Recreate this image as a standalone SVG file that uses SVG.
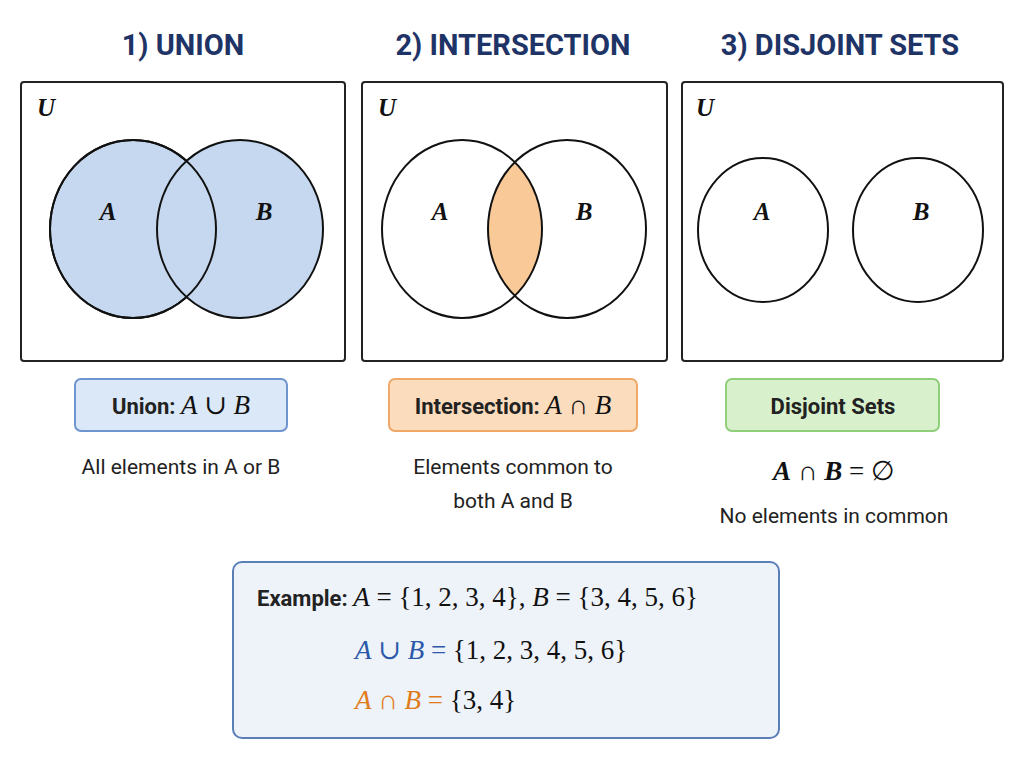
<svg xmlns="http://www.w3.org/2000/svg" width="1024" height="768" viewBox="0 0 1024 768">
<style>
.t{font-family:Roboto,"Liberation Sans",sans-serif;font-weight:bold;font-size:29px;fill:#1f3466;text-anchor:middle}
.p{fill:#fff;stroke:#222;stroke-width:2}
.c{stroke:#111;stroke-width:2}
.m{font-family:"Liberation Serif","DejaVu Serif",serif;font-style:italic;font-weight:bold;font-size:25px;fill:#111;text-anchor:middle}
.s{font-family:Roboto,"Liberation Sans",sans-serif;font-size:21px;fill:#222;text-anchor:middle}
.b{font-family:Roboto,"Liberation Sans",sans-serif;font-weight:bold;font-size:22px;fill:#222}
.x{font-family:"Liberation Serif","DejaVu Serif",serif;font-size:27px;fill:#111}
</style>
<rect width="1024" height="768" fill="#fff"/>
<g id="union">
<text class="t" x="183" y="55">1) UNION</text>
<rect class="p" x="21" y="82" width="324" height="279" rx="3"/>
<text class="m" x="46" y="116">U</text>
<ellipse cx="133" cy="229" rx="83" ry="89" fill="#c5d8ef" class="c"/>
<ellipse cx="240" cy="229" rx="83" ry="89" fill="#c5d8ef" class="c"/>
<ellipse cx="133" cy="229" rx="83" ry="89" fill="none" class="c"/>
<text class="m" x="108" y="220">A</text><text class="m" x="264" y="220">B</text>
<rect x="75" y="379" width="212" height="52" rx="6" fill="#dbe8f7" stroke="#6e95cf" stroke-width="2"/>
<text x="181" y="414" text-anchor="middle"><tspan class="b">Union: </tspan><tspan class="x" font-style="italic">A</tspan><tspan class="x"> ∪ </tspan><tspan class="x" font-style="italic">B</tspan></text>
<text class="s" x="181" y="474">All elements in A or B</text>
</g>
<g id="intersection">
<text class="t" x="513" y="55">2) INTERSECTION</text>
<rect class="p" x="362" y="82" width="305" height="279" rx="3"/>
<text class="m" x="387" y="116">U</text>
<clipPath id="ca"><ellipse cx="462" cy="229" rx="80" ry="89"/></clipPath>
<ellipse cx="567" cy="229" rx="79" ry="89" fill="#f9c998" clip-path="url(#ca)"/>
<ellipse cx="462" cy="229" rx="80" ry="89" fill="none" class="c"/>
<ellipse cx="567" cy="229" rx="79" ry="89" fill="none" class="c"/>
<text class="m" x="440" y="220">A</text><text class="m" x="584" y="220">B</text>
<rect x="389" y="379" width="248" height="52" rx="6" fill="#fbdcbc" stroke="#f0a868" stroke-width="2"/>
<text x="513" y="414" text-anchor="middle"><tspan class="b">Intersection: </tspan><tspan class="x" font-style="italic">A</tspan><tspan class="x"> ∩ </tspan><tspan class="x" font-style="italic">B</tspan></text>
<text class="s" x="513" y="474">Elements common to</text>
<text class="s" x="513" y="508">both A and B</text>
</g>
<g id="disjoint">
<text class="t" x="840" y="55">3) DISJOINT SETS</text>
<rect class="p" x="682" y="82" width="321" height="279" rx="3"/>
<text class="m" x="705" y="116">U</text>
<ellipse cx="763" cy="230" rx="65" ry="72" fill="none" class="c"/>
<ellipse cx="918" cy="230" rx="65" ry="72" fill="none" class="c"/>
<text class="m" x="762" y="220">A</text><text class="m" x="921" y="220">B</text>
<rect x="726" y="379" width="213" height="52" rx="6" fill="#d8f1cc" stroke="#8fcf7a" stroke-width="2"/>
<text class="b" x="833" y="414" text-anchor="middle">Disjoint Sets</text>
<text x="834" y="480" text-anchor="middle" class="x" font-size="30"><tspan font-style="italic" font-weight="bold">A</tspan> ∩ <tspan font-style="italic" font-weight="bold">B</tspan> = ∅</text>
<text class="s" x="834" y="523">No elements in common</text>
</g>
<g id="example">
<rect x="233" y="562" width="546" height="176" rx="9" fill="#eef3fa" stroke="#5a7fb8" stroke-width="2"/>
<text x="257" y="606"><tspan class="b" font-size="27" fill="#1f3466">Example:  </tspan><tspan class="x"><tspan font-style="italic">A</tspan> = {1, 2, 3, 4}, <tspan font-style="italic">B</tspan> = {3, 4, 5, 6}</tspan></text>
<text x="355" y="659" class="x"><tspan fill="#2b58a8"><tspan font-style="italic">A</tspan> ∪ <tspan font-style="italic">B</tspan> =</tspan> {1, 2, 3, 4, 5, 6}</text>
<text x="355" y="709" class="x"><tspan fill="#e07b1a"><tspan font-style="italic">A</tspan> ∩ <tspan font-style="italic">B</tspan> =</tspan> {3, 4}</text>
</g>
</svg>
